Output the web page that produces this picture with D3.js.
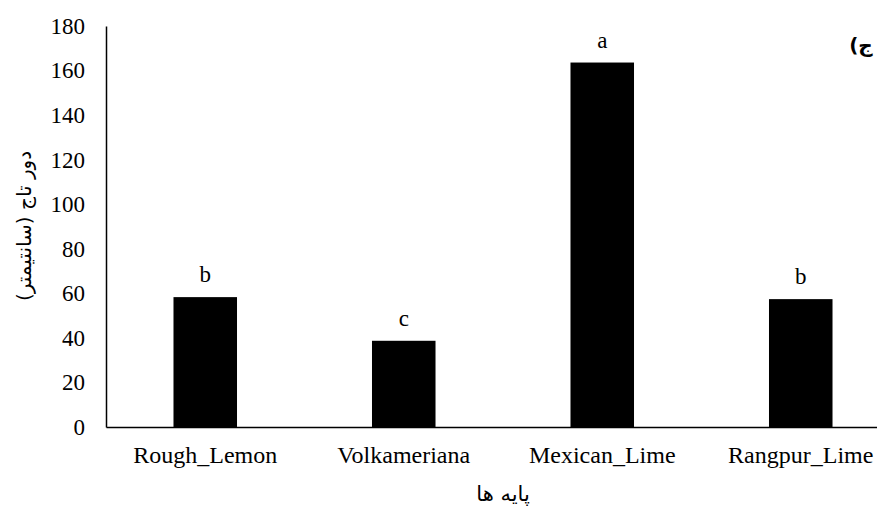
<!DOCTYPE html>
<html>
<head>
<meta charset="utf-8">
<script src="https://cdn.jsdelivr.net/npm/d3@7"></script>
<style>
  html, body { margin: 0; padding: 0; background: #fff; }
  svg { display: block; }
  .serif { font-family: "Liberation Serif", "Times New Roman", serif; }
  .fa { font-family: "DejaVu Sans", sans-serif; }
</style>
</head>
<body>
<svg id="chart" width="877" height="508"></svg>
<script>
// Rootstock crown circumference (cm) with significance groups
const categories = ["Rough_Lemon", "Volkameriana", "Mexican_Lime", "Rangpur_Lime"];
const values = [58.3, 38.7, 163.6, 57.4];
const groupLetters = ["b", "c", "a", "b"];
const yTicks = [0, 20, 40, 60, 80, 100, 120, 140, 160, 180];

const data = categories.map((c, i) => ({ cat: c, val: values[i], letter: groupLetters[i] }));

const svg = d3.select("#chart");

const plotLeft = 106, plotRight = 900, plotTop = 26, plotBottom = 427;

const x = d3.scaleBand()
  .domain(categories)
  .range([plotLeft, plotRight])
  .paddingInner(0.68)
  .paddingOuter(0.34);

const y = d3.scaleLinear()
  .domain([0, 180])
  .range([plotBottom, plotTop]);

// Bars
svg.append("g")
  .selectAll("rect")
  .data(data)
  .join("rect")
  .attr("x", d => x(d.cat))
  .attr("y", d => y(d.val))
  .attr("width", x.bandwidth())
  .attr("height", d => y(0) - y(d.val))
  .attr("fill", "#000");

// Group letters above bars
svg.append("g")
  .selectAll("text")
  .data(data)
  .join("text")
  .attr("class", "serif")
  .attr("x", d => x(d.cat) + x.bandwidth() / 2)
  .attr("y", d => y(d.val) - 15)
  .attr("text-anchor", "middle")
  .style("font-size", "23px")
  .attr("fill", "#000")
  .text(d => d.letter);

// Y axis
const yAxis = svg.append("g")
  .attr("transform", `translate(${plotLeft},0)`)
  .call(d3.axisLeft(y).tickValues(yTicks).tickSize(0).tickPadding(21));
yAxis.attr("font-family", null).attr("font-size", null);
yAxis.select(".domain").attr("stroke", "#000").attr("stroke-width", 1.5);
yAxis.selectAll("text")
  .attr("class", "serif")
  .style("font-size", "23px")
  .attr("fill", "#000");

// X axis
const xAxis = svg.append("g")
  .attr("transform", `translate(0,${plotBottom})`)
  .call(d3.axisBottom(x).tickSize(0).tickPadding(19));
xAxis.attr("font-family", null).attr("font-size", null);
xAxis.select(".domain").attr("stroke", "#000").attr("stroke-width", 1.5);
xAxis.selectAll("text")
  .attr("class", "serif")
  .style("font-size", "24px")
  .attr("fill", "#000");

// Axis titles
svg.append("text")
  .attr("class", "fa")
  .attr("transform", `translate(31,226) rotate(-90)`)
  .attr("text-anchor", "middle")
  .attr("direction", "rtl")
  .style("font-size", "20px")
  .attr("fill", "#000")
  .text("دور تاج (سانتیمتر)");

svg.append("text")
  .attr("class", "fa")
  .attr("x", (plotLeft + plotRight) / 2)
  .attr("y", 501)
  .attr("text-anchor", "middle")
  .attr("direction", "rtl")
  .style("font-size", "21px")
  .attr("fill", "#000")
  .text("پایه ها");

// Panel label
svg.append("text")
  .attr("class", "fa")
  .attr("x", 861)
  .attr("y", 52)
  .attr("text-anchor", "middle")
  .attr("direction", "rtl")
  .style("font-size", "20px")
  .attr("font-weight", "bold")
  .attr("fill", "#000")
  .text("ج)");
</script>
</body>
</html>
